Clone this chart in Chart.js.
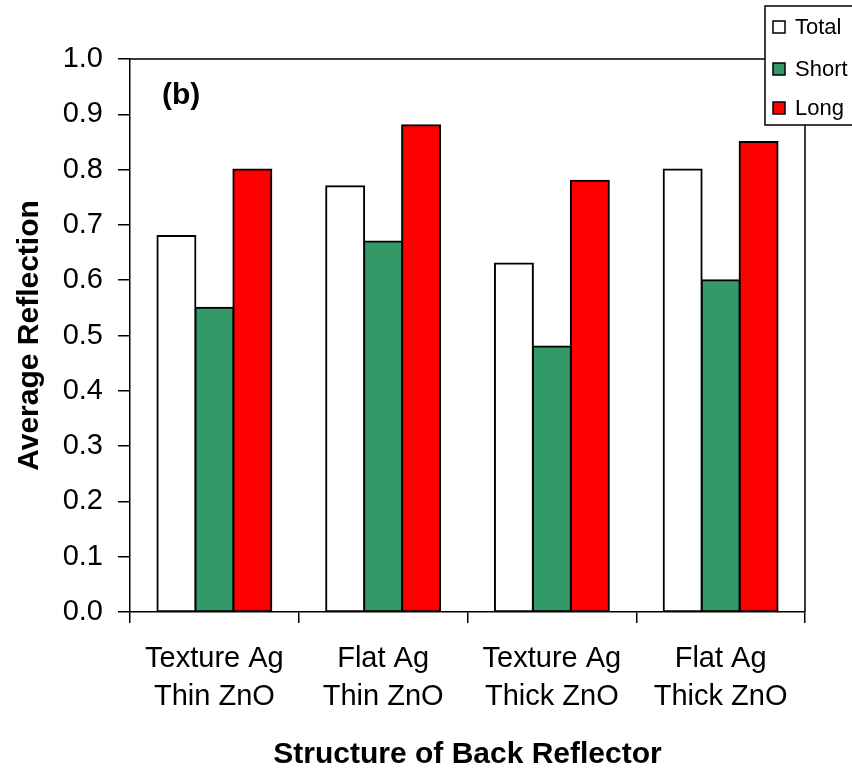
<!DOCTYPE html>
<html>
<head>
<meta charset="utf-8">
<script src="https://cdn.jsdelivr.net/npm/chart.js@4/dist/chart.umd.min.js"></script>
<style>
  html, body { margin: 0; padding: 0; background: #fff; }
  canvas { display: block; }
</style>
</head>
<body>
<canvas id="c" width="852" height="773"></canvas>
<script>
const categories = [
  ['Texture Ag', 'Thin ZnO'],
  ['Flat Ag', 'Thin ZnO'],
  ['Texture Ag', 'Thick ZnO'],
  ['Flat Ag', 'Thick ZnO']
];
const seriesNames = ['Total', 'Short', 'Long'];
const totalValues = [0.68, 0.77, 0.63, 0.80];
const shortValues = [0.55, 0.67, 0.48, 0.60];
const longValues  = [0.80, 0.88, 0.78, 0.85];
const yMin = 0.0, yMax = 1.0, yStep = 0.1;
const xTitle = 'Structure of Back Reflector';
const yTitle = 'Average Reflection';
const panelLabel = '(b)';

const FONT = '"Liberation Sans", Arial, sans-serif';
Chart.defaults.color = '#000';
Chart.defaults.font.family = FONT;

const frame = {
  id: 'frame',
  afterDatasetsDraw(chart) {
    const a = chart.chartArea, ctx = chart.ctx;
    ctx.save();
    ctx.strokeStyle = '#000';
    ctx.lineWidth = 1.5;
    ctx.beginPath();
    ctx.moveTo(a.left, a.top);
    ctx.lineTo(a.right, a.top);
    ctx.lineTo(a.right, a.bottom);
    ctx.stroke();
    // panel label
    ctx.fillStyle = '#000';
    ctx.font = 'bold 30px ' + FONT;
    ctx.textBaseline = 'alphabetic';
    ctx.textAlign = 'left';
    ctx.fillText(panelLabel, a.left + 32, 104);
    ctx.restore();
  },
  afterDraw(chart) {
    const ctx = chart.ctx;
    const a = chart.chartArea;
    const bx = a.right - 40, by = 6, bw = 120, bh = 119;
    ctx.save();
    ctx.fillStyle = '#fff';
    ctx.strokeStyle = '#000';
    ctx.lineWidth = 1.5;
    ctx.fillRect(bx, by, bw, bh);
    ctx.strokeRect(bx, by, bw, bh);
    ctx.font = '22px ' + FONT;
    ctx.textBaseline = 'middle';
    ctx.textAlign = 'left';
    const centers = [27, 69, 108];
    chart.data.datasets.forEach((ds, i) => {
      const cy = centers[i];
      ctx.fillStyle = ds.backgroundColor;
      ctx.fillRect(bx + 8, cy - 6, 12, 12);
      ctx.lineWidth = 1.5;
      ctx.strokeStyle = '#000';
      ctx.strokeRect(bx + 8, cy - 6, 12, 12);
      ctx.fillStyle = '#000';
      ctx.fillText(ds.label, bx + 30, cy + 1);
    });
    ctx.restore();
  }
};

const mk = (label, data, color) => ({
  label, data,
  backgroundColor: color,
  borderColor: '#000',
  borderWidth: 2,
  borderSkipped: false,
  inflateAmount: 1,
  categoryPercentage: 0.675,
  barPercentage: 1.0
});

new Chart(document.getElementById('c'), {
  type: 'bar',
  data: {
    labels: categories,
    datasets: [
      mk(seriesNames[0], totalValues, '#FFFFFF'),
      mk(seriesNames[1], shortValues, '#339966'),
      mk(seriesNames[2], longValues, '#FF0000')
    ]
  },
  options: {
    responsive: false,
    animation: false,
    devicePixelRatio: 1,
    layout: { padding: { top: 59, right: 47, left: 0, bottom: 0 } },
    plugins: {
      legend: { display: false },
      tooltip: { enabled: false }
    },
    scales: {
      x: {
        afterFit(s) { s.height = 161; },
        grid: {
          drawOnChartArea: false,
          offset: true,
          tickLength: 11,
          color: '#000',
          lineWidth: 1.5
        },
        border: { color: '#000', width: 1.5 },
        ticks: {
          padding: 17,
          color: '#000',
          font: { size: 29, family: FONT, lineHeight: 1.31 }
        },
        title: {
          display: true,
          text: xTitle,
          color: '#000',
          font: { size: 30, weight: 'bold', family: FONT },
          padding: { top: 0, bottom: 0 }
        }
      },
      y: {
        min: yMin, max: yMax,
        afterFit(s) { s.width = 130; },
        grid: {
          drawOnChartArea: false,
          tickLength: 12,
          color: '#000',
          lineWidth: 1.5
        },
        border: { color: '#000', width: 1.5 },
        ticks: {
          stepSize: yStep,
          padding: 15,
          color: '#000',
          font: { size: 29, family: FONT },
          callback: v => Number(v).toFixed(1)
        },
        title: {
          display: true,
          text: yTitle,
          color: '#000',
          font: { size: 30, weight: 'bold', family: FONT },
          padding: { top: 12, bottom: 0 }
        }
      }
    }
  },
  plugins: [frame]
});
</script>
</body>
</html>
